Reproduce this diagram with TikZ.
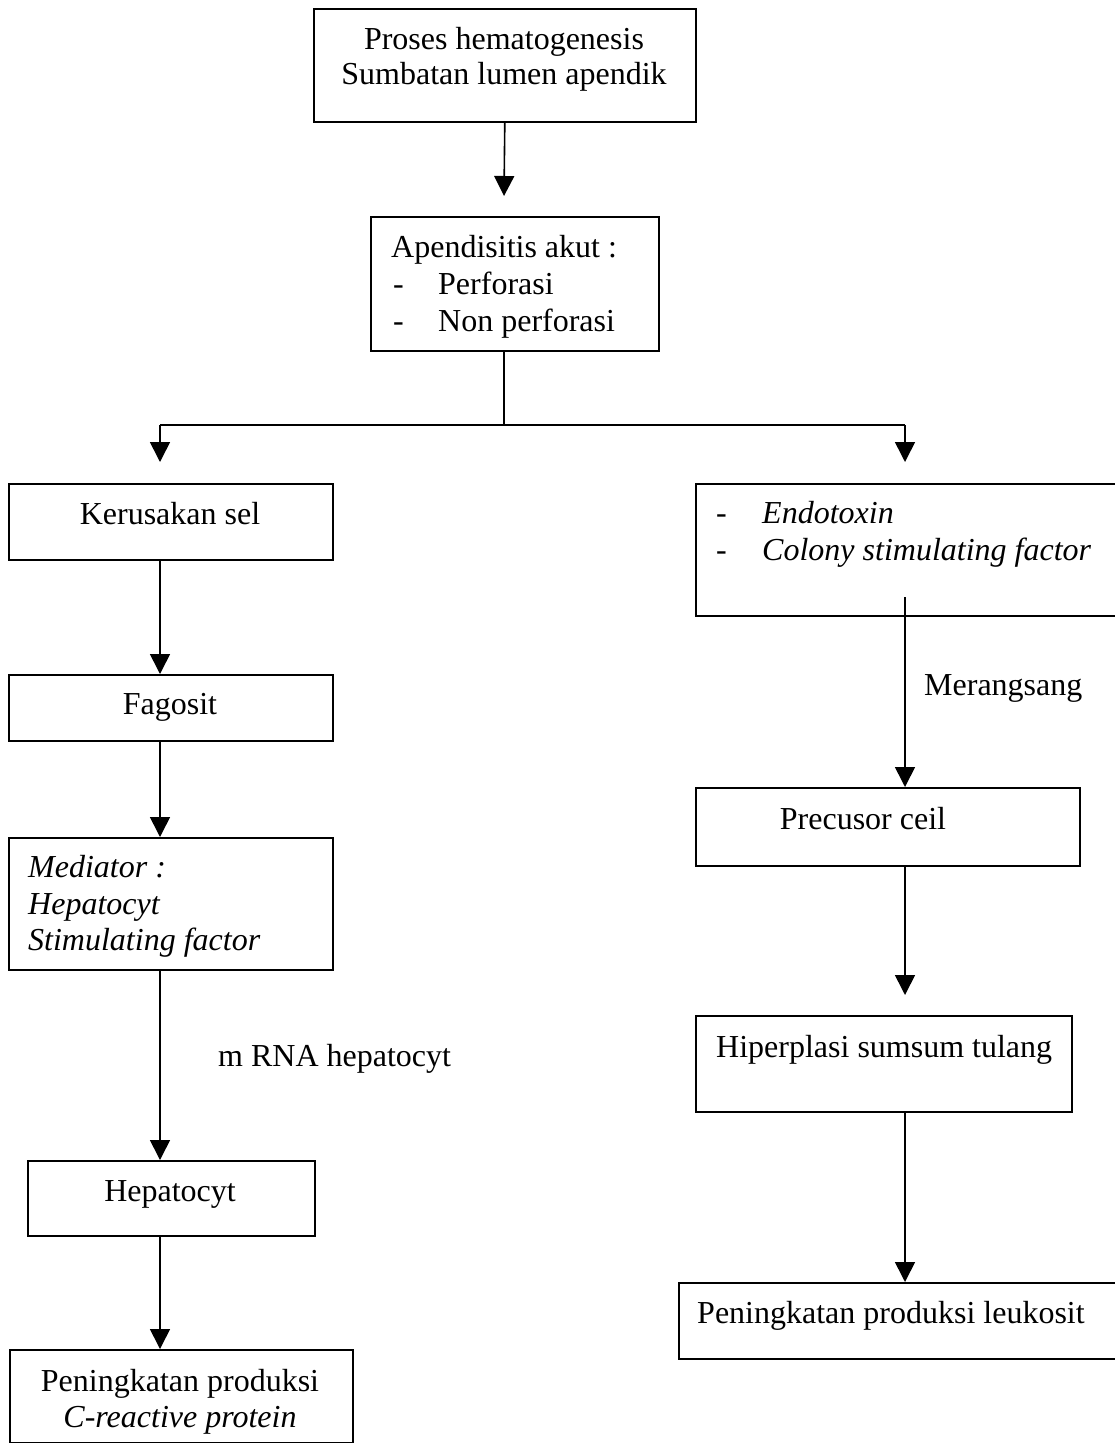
\documentclass[tikz,border=0pt]{standalone}
\usepackage{fontspec}
\setmainfont{Liberation Serif}
\usetikzlibrary{arrows.meta}
\begin{document}
\begin{tikzpicture}[x=1pt,y=-1pt,
  box/.style={draw, line width=1.6pt, rectangle, anchor=north west, inner sep=0pt},
  txt/.style={inner sep=0pt, font=\fontsize{32}{36}\selectfont},
  conn/.style={line width=1.6pt},
  arr/.style={line width=1.6pt, -{Triangle[length=20pt,width=20pt]}}]
\useasboundingbox (0,0) rectangle (1115,1443);
\clip (0,0) rectangle (1115,1443);
% boxes
\node[box, minimum width=382pt, minimum height=113pt] (top) at (313,8) {};
\node[box, minimum width=288pt, minimum height=134pt] (apd) at (370,216) {};
\node[box, minimum width=324pt, minimum height=76pt] (ker) at (8,483) {};
\node[box, minimum width=430pt, minimum height=132pt] (endo) at (695,483) {};
\node[box, minimum width=324pt, minimum height=66pt] (fag) at (8,674) {};
\node[box, minimum width=324pt, minimum height=132pt] (med) at (8,837) {};
\node[box, minimum width=287pt, minimum height=75pt] (hep) at (27,1160) {};
\node[box, minimum width=343pt, minimum height=93pt] (crp) at (9,1349) {};
\node[box, minimum width=384pt, minimum height=78pt] (pre) at (695,787) {};
\node[box, minimum width=376pt, minimum height=96pt] (hip) at (695,1015) {};
\node[box, minimum width=445pt, minimum height=76pt] (leu) at (678,1282) {};
% texts
\node[txt, anchor=base] (t1) at (504,49) {Proses hematogenesis};
\node[txt, anchor=base] (t2) at (504,84) {Sumbatan lumen apendik};
\node[txt, anchor=base west] (a1) at (391,257) {Apendisitis akut :};
\node[txt, anchor=base west] (a2d) at (393,294) {-};
\node[txt, anchor=base west] (a2) at (438,294) {Perforasi};
\node[txt, anchor=base west] (a3d) at (393,331) {-};
\node[txt, anchor=base west] (a3) at (438,331) {Non perforasi};
\node[txt, anchor=base] (k1) at (170,524) {Kerusakan sel};
\node[txt, anchor=base west] (e1d) at (716,523) {-};
\node[txt, anchor=base west] (e1) at (762,523) {\itshape Endotoxin};
\node[txt, anchor=base west] (e2d) at (716,560) {-};
\node[txt, anchor=base west] (e2) at (762,560) {\itshape Colony stimulating factor};
\node[txt, anchor=base] (f1) at (170,714) {Fagosit};
\node[txt, anchor=base west] (m1) at (28,877) {\itshape Mediator :};
\node[txt, anchor=base west] (m2) at (28,914) {\itshape Hepatocyt};
\node[txt, anchor=base west] (m3) at (28,950) {\itshape Stimulating factor};
\node[txt, anchor=base west] (lab1) at (218,1066) {m RNA hepatocyt};
\node[txt, anchor=base] (h1) at (170,1201) {Hepatocyt};
\node[txt, anchor=base] (c1) at (180,1391) {Peningkatan produksi};
\node[txt, anchor=base] (c2) at (180,1427) {\itshape C-reactive protein};
\node[txt, anchor=base west] (lab2) at (924,695) {Merangsang};
\node[txt, anchor=base] (p1) at (863,829) {Precusor ceil};
\node[txt, anchor=base west] (hp1) at (716,1057) {Hiperplasi sumsum tulang};
\node[txt, anchor=base west] (l1) at (697,1323) {Peningkatan produksi leukosit};
% coordinates
\coordinate (tip1) at (504,196);
\coordinate (br) at (504,425);
\coordinate (bl) at (160,425);
\coordinate (brr) at (905,425);
\coordinate (tipl) at (160,462);
\coordinate (tipr) at (905,462);
\coordinate (rs) at (905,597);
\coordinate (tip2) at (905,995);
% connectors
\draw[arr] (top.south) -- (tip1);
\draw[conn] (apd.south -| br) -- (br);
\draw[conn] (bl) -- (brr);
\draw[arr] (bl) -- (tipl);
\draw[arr] (brr) -- (tipr);
\draw[arr] (ker.south -| bl) -- (fag.north -| bl);
\draw[arr] (fag.south -| bl) -- (med.north -| bl);
\draw[arr] (med.south -| bl) -- (hep.north -| bl);
\draw[arr] (hep.south -| bl) -- (crp.north -| bl);
\draw[arr] (rs) -- (pre.north -| rs);
\draw[arr] (pre.south -| rs) -- (tip2);
\draw[arr] (hip.south -| rs) -- (leu.north -| rs);
\end{tikzpicture}
\end{document}
